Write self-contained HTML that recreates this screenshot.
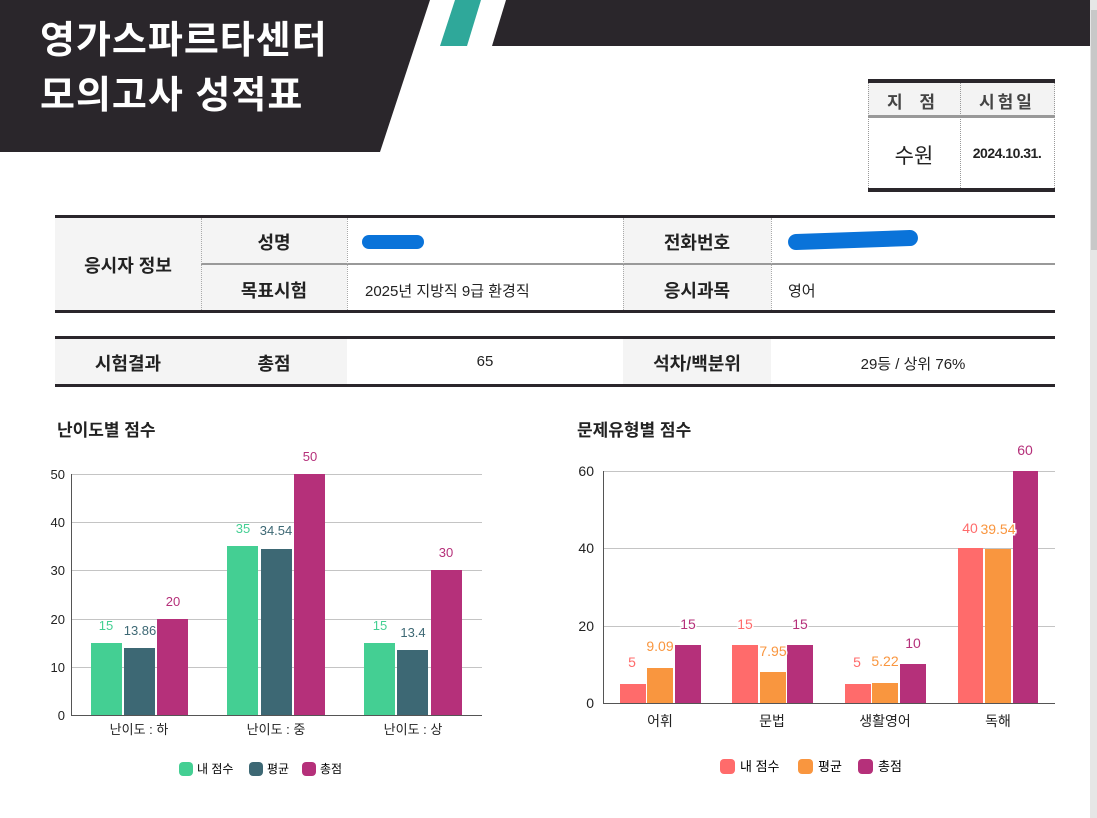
<!DOCTYPE html>
<html><head><meta charset="utf-8"><style>
*{margin:0;padding:0;box-sizing:border-box}
body{width:1097px;height:818px;position:relative;background:#fff;overflow:hidden;font-family:"Liberation Sans","Noto Sans CJK KR",sans-serif;color:#222}
.a{position:absolute}
.t{position:absolute;font-size:17px;text-align:center}
.b{font-weight:bold}
</style></head><body>
<svg class="a" style="left:0;top:0" width="1097" height="200">
<polygon points="0,0 430,0 380,152 0,152" fill="#2a262b"/>
<polygon points="455,0 481,0 467,46 440,46" fill="#2fa89a"/>
<polygon points="506,0 1090,0 1090,46 492,46" fill="#2a262b"/>
</svg>
<div class="a b" style="left:40px;top:14px;color:#fff;font-size:38px;line-height:55px;letter-spacing:1px">영가스파르타센터<br>모의고사 성적표</div>
<div class="a" style="left:1090px;top:0;width:7px;height:818px;background:#e6e6e6"></div>
<div class="a" style="left:1091px;top:10px;width:6px;height:240px;background:#c8c8c8"></div>

<div class="a" style="left:868px;top:79px;width:187px;height:4px;background:#2a262b"></div>
<div class="a" style="left:868px;top:83px;width:187px;height:32px;background:#f3f3f3"></div>
<div class="a" style="left:868px;top:115px;width:187px;height:3px;background:#999"></div>
<div class="a" style="left:868px;top:188px;width:187px;height:4px;background:#2a262b"></div>
<div class="a" style="left:868px;top:83px;height:105px;border-left:1px dotted #999"></div>
<div class="a" style="left:960px;top:83px;height:105px;border-left:1px dotted #999"></div>
<div class="a" style="left:1054px;top:83px;height:105px;border-left:1px dotted #999"></div>
<div class="t b" style="left:868px;top:88px;width:92px;color:#444;letter-spacing:6px">지 점</div>
<div class="t b" style="left:960px;top:88px;width:94px;color:#444;letter-spacing:3px">시험일</div>
<div class="t" style="left:868px;top:140px;width:92px;font-size:21px">수원</div>
<div class="t b" style="left:960px;top:145px;width:94px;font-size:14px;letter-spacing:-0.5px">2024.10.31.</div>

<div class="a" style="left:55px;top:218px;width:146px;height:92px;background:#f4f4f4"></div>
<div class="a" style="left:201px;top:218px;width:146px;height:92px;background:#f4f4f4"></div>
<div class="a" style="left:623px;top:218px;width:148px;height:92px;background:#f4f4f4"></div>
<div class="a" style="left:55px;top:215px;width:1000px;height:3px;background:#2a262b"></div>
<div class="a" style="left:201px;top:263px;width:854px;height:2px;background:#999"></div>
<div class="a" style="left:55px;top:310px;width:1000px;height:3px;background:#2a262b"></div>
<div class="a" style="left:201px;top:218px;height:92px;border-left:1px dotted #aaa"></div>
<div class="a" style="left:347px;top:218px;height:92px;border-left:1px dotted #aaa"></div>
<div class="a" style="left:623px;top:218px;height:92px;border-left:1px dotted #aaa"></div>
<div class="a" style="left:771px;top:218px;height:92px;border-left:1px dotted #aaa"></div>
<div class="t b" style="left:55px;top:252px;width:146px;font-size:18px">응시자 정보</div>
<div class="t b" style="left:201px;top:229px;width:146px;font-size:18px">성명</div>
<div class="t b" style="left:201px;top:277px;width:146px;font-size:18px">목표시험</div>
<div class="t b" style="left:623px;top:229px;width:148px;font-size:18px">전화번호</div>
<div class="t b" style="left:623px;top:277px;width:148px;font-size:18px">응시과목</div>
<div class="a" style="left:365px;top:280px;font-size:15px">2025년 지방직 9급 환경직</div>
<div class="a" style="left:788px;top:280px;font-size:15px">영어</div>
<div class="a" style="left:362px;top:235px;width:62px;height:14px;background:#0a73d9;border-radius:8px"></div>
<div class="a" style="left:788px;top:232px;width:130px;height:16px;background:#0a73d9;border-radius:8px;transform:rotate(-2deg)"></div>

<div class="a" style="left:55px;top:339px;width:292px;height:45px;background:#f4f4f4"></div>
<div class="a" style="left:623px;top:339px;width:148px;height:45px;background:#f4f4f4"></div>
<div class="a" style="left:55px;top:336px;width:1000px;height:3px;background:#2a262b"></div>
<div class="a" style="left:55px;top:384px;width:1000px;height:3px;background:#2a262b"></div>
<div class="t b" style="left:55px;top:350px;width:146px;font-size:18px">시험결과</div>
<div class="t b" style="left:201px;top:350px;width:146px;font-size:18px">총점</div>
<div class="t" style="left:347px;top:353px;width:276px;font-size:15px">65</div>
<div class="t b" style="left:623px;top:350px;width:148px;font-size:18px">석차/백분위</div>
<div class="t" style="left:771px;top:353px;width:284px;font-size:15px">29등 / 상위 76%</div>

<div class="a b" style="left:57px;top:416px;font-size:17px">난이도별 점수</div>
<div class="a b" style="left:577px;top:416px;font-size:17px">문제유형별 점수</div>

<svg class="a" style="left:0;top:0" width="1097" height="818" font-family="Liberation Sans, Noto Sans CJK KR, sans-serif" font-size="13">
<g stroke="#c4c4c4" stroke-width="1">
<line x1="71" y1="474.5" x2="482" y2="474.5"/><line x1="71" y1="522.5" x2="482" y2="522.5"/><line x1="71" y1="570.5" x2="482" y2="570.5"/><line x1="71" y1="619.5" x2="482" y2="619.5"/><line x1="71" y1="667.5" x2="482" y2="667.5"/>
</g>
<g fill="#222" text-anchor="end" font-size="13">
<text x="65" y="479">50</text><text x="65" y="527">40</text><text x="65" y="575">30</text><text x="65" y="624">20</text><text x="65" y="672">10</text><text x="65" y="720">0</text>
</g>
<rect x="91" y="643" width="31" height="72" fill="#44cf93"/>
<rect x="124" y="648" width="31" height="67" fill="#3d6874"/>
<rect x="157" y="619" width="31" height="96" fill="#b5307a"/>
<rect x="227" y="546" width="31" height="169" fill="#44cf93"/>
<rect x="261" y="549" width="31" height="166" fill="#3d6874"/>
<rect x="294" y="474" width="31" height="241" fill="#b5307a"/>
<rect x="364" y="643" width="31" height="72" fill="#44cf93"/>
<rect x="397" y="650" width="31" height="65" fill="#3d6874"/>
<rect x="431" y="570" width="31" height="145" fill="#b5307a"/>
<line x1="71.5" y1="474" x2="71.5" y2="715" stroke="#555"/>
<line x1="71" y1="715.5" x2="482" y2="715.5" stroke="#555"/>
<g text-anchor="middle" font-size="13">
<text x="106" y="630" fill="#44cf93">15</text><text x="140" y="635" fill="#3d6874">13.86</text><text x="173" y="606" fill="#b5307a">20</text>
<text x="243" y="533" fill="#44cf93">35</text><text x="276" y="535" fill="#3d6874">34.54</text><text x="310" y="461" fill="#b5307a">50</text>
<text x="380" y="630" fill="#44cf93">15</text><text x="413" y="637" fill="#3d6874">13.4</text><text x="446" y="557" fill="#b5307a">30</text>
<text x="139" y="734" fill="#222">난이도 : 하</text><text x="276" y="734" fill="#222">난이도 : 중</text><text x="413" y="734" fill="#222">난이도 : 상</text>
</g>
<rect x="179" y="762" width="14" height="14" rx="4" fill="#44cf93"/><text x="197" y="773" font-size="12">내 점수</text>
<rect x="249" y="762" width="14" height="14" rx="4" fill="#3d6874"/><text x="267" y="773" font-size="12">평균</text>
<rect x="302" y="762" width="14" height="14" rx="4" fill="#b5307a"/><text x="320" y="773" font-size="12">총점</text>

<g stroke="#c4c4c4" stroke-width="1">
<line x1="603" y1="471.5" x2="1055" y2="471.5"/><line x1="603" y1="548.5" x2="1055" y2="548.5"/><line x1="603" y1="626.5" x2="1055" y2="626.5"/>
</g>
<g fill="#222" text-anchor="end" font-size="14">
<text x="594" y="476">60</text><text x="594" y="553">40</text><text x="594" y="631">20</text><text x="594" y="708">0</text>
</g>
<rect x="620" y="684" width="26" height="19" fill="#ff6b6b"/>
<rect x="647" y="668" width="26" height="35" fill="#f9963f"/>
<rect x="675" y="645" width="26" height="58" fill="#b5307a"/>
<rect x="732" y="645" width="26" height="58" fill="#ff6b6b"/>
<rect x="760" y="672" width="26" height="31" fill="#f9963f"/>
<rect x="787" y="645" width="26" height="58" fill="#b5307a"/>
<rect x="845" y="684" width="26" height="19" fill="#ff6b6b"/>
<rect x="872" y="683" width="26" height="20" fill="#f9963f"/>
<rect x="900" y="664" width="26" height="39" fill="#b5307a"/>
<rect x="958" y="548" width="25" height="155" fill="#ff6b6b"/>
<rect x="985" y="549" width="26" height="154" fill="#f9963f"/>
<rect x="1013" y="471" width="25" height="232" fill="#b5307a"/>
<line x1="603.5" y1="471" x2="603.5" y2="703" stroke="#555"/>
<line x1="603" y1="703.5" x2="1055" y2="703.5" stroke="#555"/>
<g text-anchor="middle" font-size="14" stroke="#fff" stroke-width="3" paint-order="stroke">
<text x="632" y="667" fill="#ff6b6b">5</text><text x="660" y="651" fill="#f9963f">9.09</text><text x="688" y="629" fill="#b5307a">15</text>
<text x="745" y="629" fill="#ff6b6b">15</text><text x="773" y="656" fill="#f9963f">7.95</text><text x="800" y="629" fill="#b5307a">15</text>
<text x="857" y="667" fill="#ff6b6b">5</text><text x="885" y="666" fill="#f9963f">5.22</text><text x="913" y="648" fill="#b5307a">10</text>
<text x="970" y="533" fill="#ff6b6b">40</text><text x="998" y="534" fill="#f9963f">39.54</text><text x="1025" y="455" fill="#b5307a">60</text>
</g>
<g text-anchor="middle" font-size="14" fill="#222">
<text x="660" y="726">어휘</text><text x="772" y="726">문법</text><text x="885" y="726">생활영어</text><text x="998" y="726">독해</text>
</g>
<rect x="720" y="759" width="15" height="15" rx="4" fill="#ff6b6b"/><text x="740" y="771" font-size="13">내 점수</text>
<rect x="798" y="759" width="15" height="15" rx="4" fill="#f9963f"/><text x="818" y="771" font-size="13">평균</text>
<rect x="858" y="759" width="15" height="15" rx="4" fill="#b5307a"/><text x="878" y="771" font-size="13">총점</text>
</svg>
</body></html>
